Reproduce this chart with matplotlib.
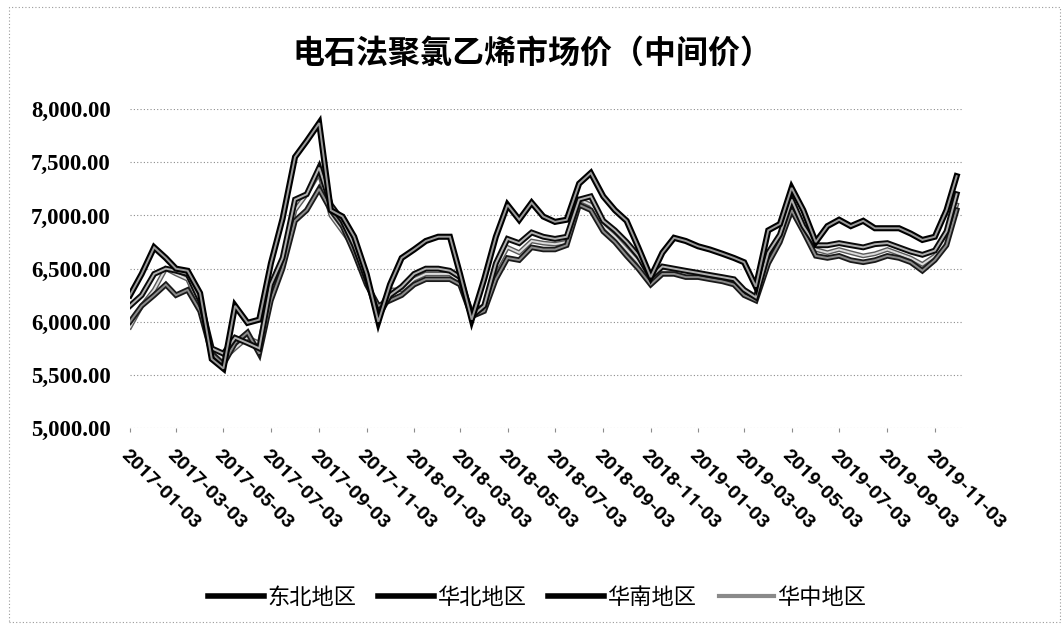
import numpy as np
import pandas as pd
import matplotlib
matplotlib.use('Agg')
import matplotlib.pyplot as plt
import matplotlib.patheffects as pe
from matplotlib.lines import Line2D
from matplotlib.patches import Rectangle

plt.rcParams['font.family'] = ['Noto Sans CJK SC', 'DejaVu Sans']

# ── DATA (~half-month steps) ─────────────────────────────────────────
dates = pd.to_datetime([
    '2017-01-03', '2017-01-18', '2017-02-03', '2017-02-18', '2017-03-03', '2017-03-18',
    '2017-04-03', '2017-04-18', '2017-05-03', '2017-05-18', '2017-06-03', '2017-06-18',
    '2017-07-03', '2017-07-18', '2017-08-03', '2017-08-18', '2017-09-03', '2017-09-18',
    '2017-10-03', '2017-10-18', '2017-11-03', '2017-11-18', '2017-12-03', '2017-12-18',
    '2018-01-03', '2018-01-18', '2018-02-03', '2018-02-18', '2018-03-03', '2018-03-18',
    '2018-04-03', '2018-04-18', '2018-05-03', '2018-05-18', '2018-06-03', '2018-06-18',
    '2018-07-03', '2018-07-18', '2018-08-03', '2018-08-18', '2018-09-03', '2018-09-18',
    '2018-10-03', '2018-10-18', '2018-11-03', '2018-11-18', '2018-12-03', '2018-12-18',
    '2019-01-03', '2019-01-18', '2019-02-03', '2019-02-18', '2019-03-03', '2019-03-18',
    '2019-04-03', '2019-04-18', '2019-05-03', '2019-05-18', '2019-06-03', '2019-06-18',
    '2019-07-03', '2019-07-18', '2019-08-03', '2019-08-18', '2019-09-03', '2019-09-18',
    '2019-10-03', '2019-10-18', '2019-11-03', '2019-11-18', '2019-12-01',
])

dongbei = [6250, 6450, 6700, 6600, 6500, 6480, 6270, 5650, 5560, 6150, 5990, 6020,
           6550, 6970, 7550, 7700, 7870, 7050, 6990, 6800, 6450, 6000, 6350, 6600,
           6680, 6760, 6800, 6800, 6450, 6020, 6400, 6800, 7100, 6960, 7120, 6990,
           6940, 6960, 7300, 7400, 7180, 7050, 6950, 6700, 6420, 6650, 6790, 6760,
           6710, 6680, 6640, 6600, 6560, 6330, 6860, 6920, 7260, 7050, 6750, 6900,
           6960, 6900, 6950, 6880, 6880, 6880, 6830, 6770, 6800, 7050, 7370]

huabei = [6150, 6250, 6450, 6500, 6480, 6450, 6200, 5750, 5700, 5850, 5800, 5750,
          6350, 6600, 7150, 7200, 7450, 7100, 6950, 6720, 6400, 6050, 6250, 6330,
          6450, 6500, 6500, 6480, 6420, 6050, 6150, 6550, 6780, 6740, 6840, 6800,
          6780, 6800, 7150, 7180, 6950, 6860, 6750, 6620, 6420, 6520, 6500, 6480,
          6460, 6440, 6420, 6400, 6300, 6230, 6650, 6820, 7150, 6900, 6720, 6720,
          6740, 6720, 6700, 6730, 6740, 6700, 6660, 6630, 6670, 6850, 7200]

huanan = [6000, 6150, 6250, 6350, 6250, 6300, 6100, 5700, 5600, 5800, 5900, 5700,
          6200, 6500, 6950, 7050, 7250, 7050, 6900, 6650, 6350, 6150, 6200, 6250,
          6350, 6400, 6400, 6400, 6350, 6050, 6100, 6400, 6600, 6580, 6700, 6680,
          6680, 6720, 7100, 7050, 6850, 6750, 6620, 6500, 6350, 6450, 6450, 6420,
          6420, 6400, 6380, 6350, 6250, 6200, 6550, 6750, 7050, 6850, 6620, 6600,
          6620, 6580, 6560, 6580, 6620, 6600, 6560, 6480, 6580, 6720, 7050]

huazhong = [5950, 6150, 6300, 6500, 6450, 6400, 6150, 5750, 5650, 5750, 5850, 5800,
            6300, 6550, 7050, 7200, 7400, 7000, 6850, 6700, 6400, 6100, 6300, 6300,
            6400, 6450, 6450, 6450, 6380, 6100, 6150, 6500, 6700, 6650, 6760, 6740,
            6730, 6750, 7150, 7100, 6900, 6800, 6680, 6560, 6380, 6480, 6470, 6450,
            6450, 6420, 6400, 6370, 6280, 6210, 6600, 6780, 7100, 6880, 6680, 6650,
            6680, 6650, 6620, 6640, 6680, 6640, 6600, 6540, 6620, 6780, 7100]

series_names = ['东北地区', '华北地区', '华南地区', '华中地区']
tick_dates = pd.date_range('2017-01-01', '2019-11-01', freq='2MS') + pd.Timedelta(days=2)
y_ticks = [5000, 5500, 6000, 6500, 7000, 7500, 8000]

# ── FIGURE ───────────────────────────────────────────────────────────
fig = plt.figure(figsize=(10.64, 6.24), dpi=100)
ax = fig.add_axes([0.1222, 0.314, 0.782, 0.511])

# dotted chart border
fig.patches.append(Rectangle((0.008, 0.003), 0.988, 0.985, transform=fig.transFigure,
                             fill=False, ec='#9a9a9a', lw=0.8, ls=(0, (1, 2))))

styles = [
    dict(core='#9a9a9a', edge='#000000', lw=4.4),
    dict(core='#b0b0b0', edge='#0a0a0a', lw=4.2),
    dict(core='#8a8a8a', edge='#1a1a1a', lw=4.0),
    dict(core='#dcdcdc', edge='#5a5a5a', lw=3.4),
]
all_series = [dongbei, huabei, huanan, huazhong]
for vals, st in zip(all_series[::-1], styles[::-1]):
    ax.plot(dates, vals, color=st['core'], lw=1.4, solid_joinstyle='miter',
            path_effects=[pe.Stroke(linewidth=st['lw'], foreground=st['edge']), pe.Normal()])

ax.set_ylim(5000, 8000)
ax.set_xlim(pd.Timestamp('2017-01-03'), pd.Timestamp('2019-12-08'))
ax.set_yticks(y_ticks)
ax.yaxis.set_major_formatter(matplotlib.ticker.FuncFormatter(lambda v, p: f'{v:,.2f}'))
ax.grid(axis='y', color='#8c8c8c', lw=0.8, ls=(0, (1, 2)))
for s in ['left', 'right', 'top', 'bottom']:
    ax.spines[s].set_visible(False)
ax.tick_params(axis='y', length=0, pad=14)
for lab in ax.get_yticklabels():
    lab.set_fontfamily('Liberation Serif')
    lab.set_fontsize(16.5)
    lab.set_fontweight('bold')

ax.set_xticks(tick_dates)
ax.set_xticklabels([d.strftime('%Y-%m-%d') for d in tick_dates],
                   rotation=-45, ha='left', va='top', rotation_mode='anchor',
                   fontfamily='Roboto', fontweight='bold', fontsize=14)
ax.tick_params(axis='x', length=3, color='#8c8c8c', pad=10)

fig.suptitle('电石法聚氯乙烯市场价（中间价）', x=0.5, y=0.94, fontsize=23,
             fontweight='bold')

legend_styles = [('#000000', 4.0), ('#000000', 4.0), ('#000000', 4.0), ('#8a8a8a', 3.0)]
handles = [Line2D([], [], color=c, lw=w) for c, w in legend_styles]
fig.legend(handles, series_names, loc='center', bbox_to_anchor=(0.505, 0.043),
           ncol=4, frameon=False, fontsize=16, handlelength=2.5,
           handletextpad=0.15, columnspacing=1.0)

plt.savefig('out.png', dpi=100)
